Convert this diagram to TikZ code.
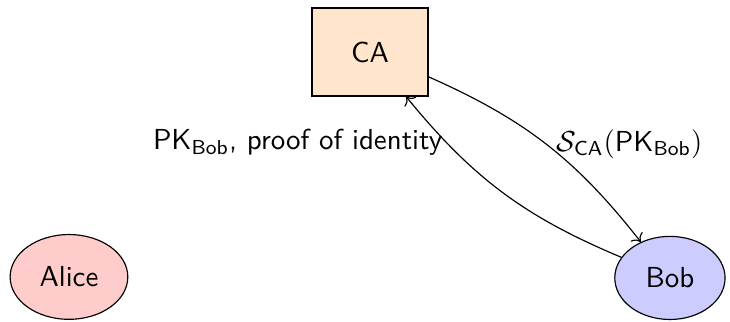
\documentclass[tikz,border=0pt]{standalone}
\usepackage{amsmath}
\usepackage{amssymb}
\usepackage{tikz}
\usetikzlibrary{positioning,arrows.meta,calc,shapes.geometric}
\renewcommand{\familydefault}{\sfdefault}

\begin{document}
\begin{tikzpicture}
        \useasboundingbox (0,0) rectangle (8.87,3.912);

        \node[draw, fill=orange!20, minimum width=1.41cm, minimum height=1.07cm] (ca) at (4.496,3.28) {CA};
        \node[draw, ellipse, fill=red!20, minimum width=1.43cm, minimum height=1.03cm] (alice) at (0.838,0.547) {Alice};
        \node[draw, ellipse, fill=blue!20, minimum width=1.34cm, minimum height=1.01cm] (bob) at (8.14,0.535) {Bob};

        \draw[->] (bob) to[bend left=14] node[pos=0.76, left, yshift=2pt] {$\mathsf{PK}_{\mathsf{Bob}}$, proof of identity} (ca);
        \draw[->] (ca) to[bend left=14] node[right] {$\mathcal{S}_{\mathsf{CA}}(\mathsf{PK}_{\mathsf{Bob}})$} (bob);
    \end{tikzpicture}
\end{document}
